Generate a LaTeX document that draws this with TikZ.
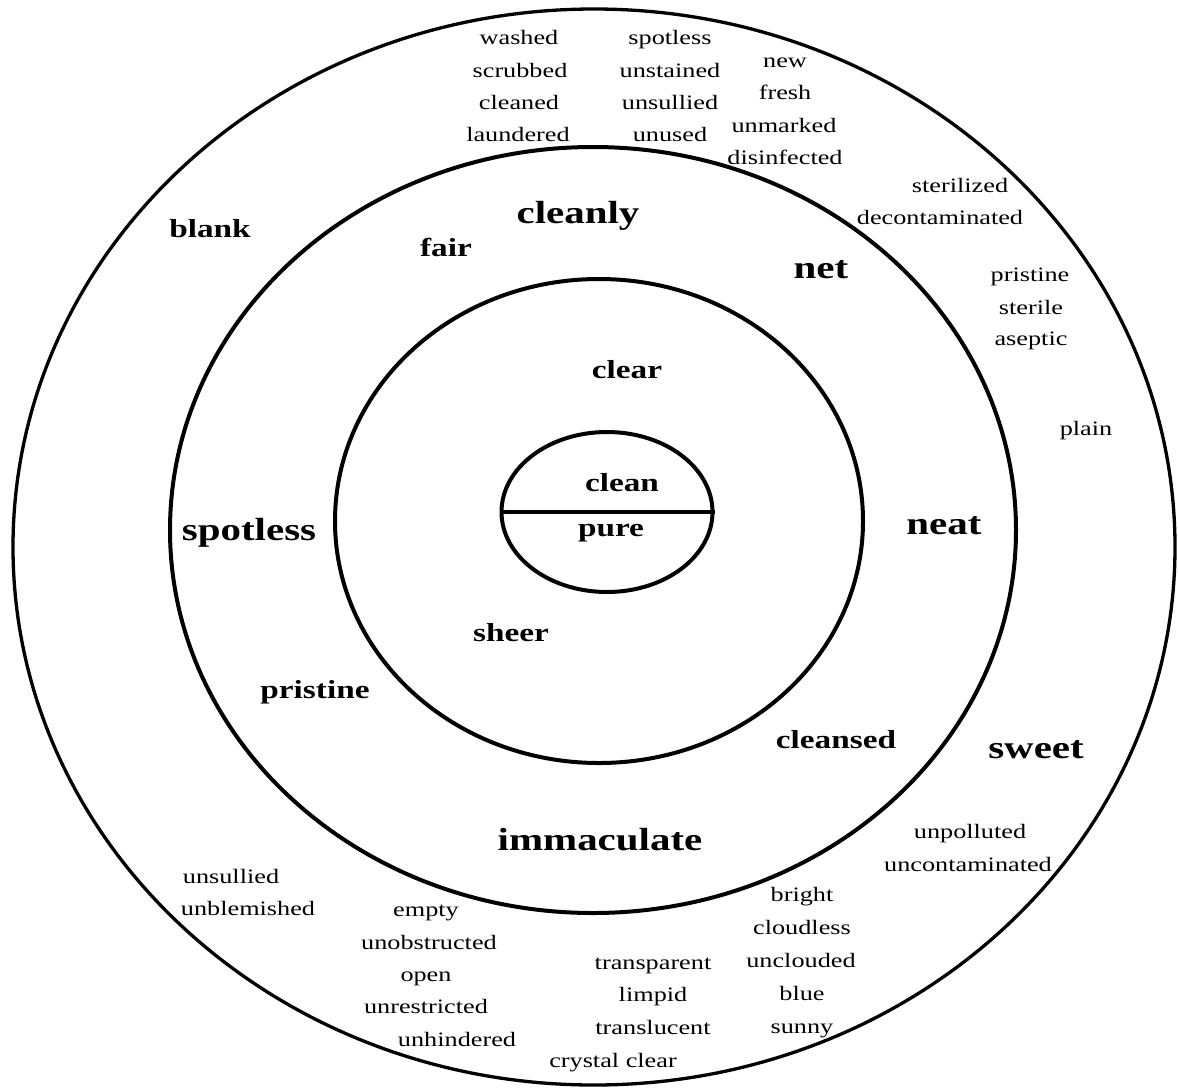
\documentclass[tikz,border=0pt]{standalone}
\usepackage{fontspec}
\setmainfont{Liberation Serif}[FakeStretch=1.28]
\usetikzlibrary{shapes.geometric}
\begin{document}
\begin{tikzpicture}[x=1pt,y=-1pt,
  ring/.style={draw, ellipse, inner sep=0pt, line width=4pt},
  small/.style={font=\fontsize{20.5}{24}\selectfont, inner sep=0pt, text height=14pt, text depth=0pt},
  mid/.style={font=\fontsize{26}{30}\selectfont\bfseries, inner sep=0pt, text height=17.7pt, text depth=0pt},
  big/.style={font=\fontsize{32}{36}\selectfont\bfseries, inner sep=0pt, text height=21.8pt, text depth=0pt}]
\fill[white] (0,0) rectangle (1178,1088);
\useasboundingbox (0,0) rectangle (1178,1088);

% concentric rings
\node[ring, line width=3.3pt, minimum width=1162pt, minimum height=1076pt] (outer) at (594,547) {};
\node[ring, minimum width=846pt, minimum height=766pt] (middle) at (593,530) {};
\node[ring, minimum width=528pt, minimum height=484pt] (inner) at (599,521) {};
\node[ring, minimum width=211pt, minimum height=160pt] (core) at (607,512) {};
\draw[line width=4pt] (core.west) -- (core.east);

% core
\node[mid] (clean) at (622,483) {clean};
\node[mid] (pure) at (611,528) {pure};

% inner ring
\node[mid] (clear) at (627,370) {clear};
\node[mid] (sheer) at (511,633) {sheer};

% middle ring
\node[big] (cleanly) at (578,213) {cleanly};
\node[mid] (fair) at (446,248) {fair};
\node[big] (net) at (821,268) {net};
\node[big] (spotlessB) at (249,530) {spotless};
\node[big] (neat) at (944,524) {neat};
\node[mid] (pristineB) at (315,690) {pristine};
\node[mid] (cleansed) at (836,740) {cleansed};
\node[big] (immaculate) at (600,840) {immaculate};

% outer ring, bold
\node[mid] (blank) at (210,229) {blank};
\node[big] (sweet) at (1036,748) {sweet};

% outer ring, top
\node[small] (washed) at (519,37) {washed};
\node[small] (scrubbed) at (520,70) {scrubbed};
\node[small] (cleaned) at (519,102) {cleaned};
\node[small] (laundered) at (518,134) {laundered};
\node[small] (spotless) at (670,37) {spotless};
\node[small] (unstained) at (670,70) {unstained};
\node[small] (unsulliedT) at (670,102) {unsullied};
\node[small] (unused) at (670,134) {unused};
\node[small] (new) at (785,60) {new};
\node[small] (fresh) at (785,92) {fresh};
\node[small] (unmarked) at (784,125) {unmarked};
\node[small] (disinfected) at (785,157) {disinfected};

% outer ring, right
\node[small] (sterilized) at (960,185) {sterilized};
\node[small] (decontaminated) at (940,217) {decontaminated};
\node[small] (pristine) at (1030,274) {pristine};
\node[small] (sterile) at (1031,307) {sterile};
\node[small] (aseptic) at (1031,338) {aseptic};
\node[small] (plain) at (1086,428) {plain};
\node[small] (unpolluted) at (970,831) {unpolluted};
\node[small] (uncontaminated) at (968,864) {uncontaminated};

% outer ring, bottom
\node[small] (unsulliedB) at (231,876) {unsullied};
\node[small] (unblemished) at (248,908) {unblemished};
\node[small] (empty) at (426,909) {empty};
\node[small] (unobstructed) at (429,942) {unobstructed};
\node[small] (open) at (426,974) {open};
\node[small] (unrestricted) at (426,1006) {unrestricted};
\node[small] (unhindered) at (457,1039) {unhindered};
\node[small] (transparent) at (653,962) {transparent};
\node[small] (limpid) at (653,994) {limpid};
\node[small] (translucent) at (653,1027) {translucent};
\node[small] (crystal) at (613,1060) {crystal clear};
\node[small] (bright) at (802,894) {bright};
\node[small] (cloudless) at (802,927) {cloudless};
\node[small] (unclouded) at (801,960) {unclouded};
\node[small] (blue) at (802,993) {blue};
\node[small] (sunny) at (802,1026) {sunny};
\end{tikzpicture}
\end{document}
